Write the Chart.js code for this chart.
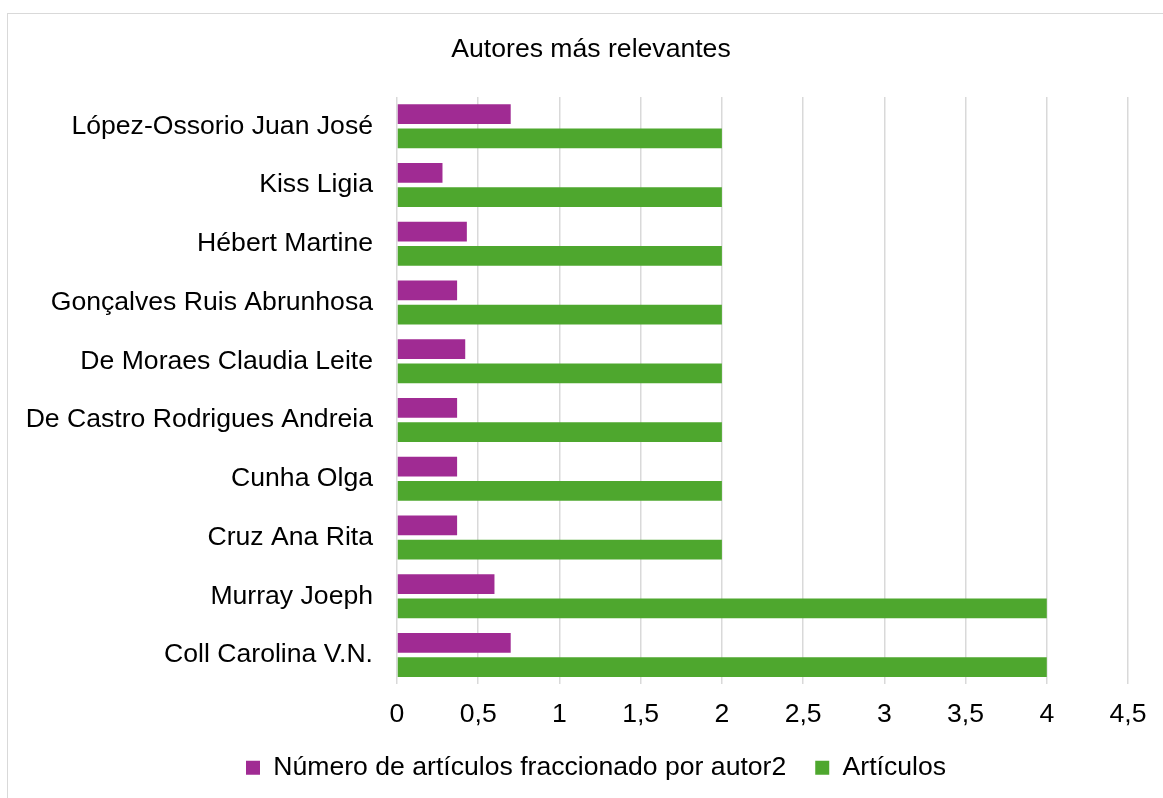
<!DOCTYPE html>
<html>
<head>
<meta charset="utf-8">
<script src="https://cdn.jsdelivr.net/npm/chart.js@4.4.1/dist/chart.umd.min.js"></script>
<style>
  body { margin: 0; background: #fff; overflow: hidden; }
  #frame { position: absolute; left: 7px; top: 13px; width: 1200px; height: 900px; border: 1px solid #d9d9d9; }
  #myChart { position: absolute; left: 0; top: 0; }
</style>
</head>
<body>
<div id="frame"></div>
<canvas id="myChart" width="1163" height="798"></canvas>
<script>
'use strict';
// authors, top to bottom as in the figure
let authors = [
  'López-Ossorio Juan José',
  'Kiss Ligia',
  'Hébert Martine',
  'Gonçalves Ruis Abrunhosa',
  'De Moraes Claudia Leite',
  'De Castro Rodrigues Andreia',
  'Cunha Olga',
  'Cruz Ana Rita',
  'Murray Joeph',
  'Coll Carolina V.N.'
];
let fractionalArticles = [0.7, 0.28, 0.43, 0.37, 0.42, 0.37, 0.37, 0.37, 0.6, 0.7];
let articles = [2, 2, 2, 2, 2, 2, 2, 2, 4, 4];
let xMax = 4.5;
let xStep = 0.5;

let font = { family: '"Liberation Sans", Arial, sans-serif', size: 26.6 };

// the original centres title and legend on its frame, not on the canvas
let shiftBlocks = {
  id: 'shiftBlocks',
  afterLayout(chart) {
    chart.titleBlock.left = 54;
    chart.legend.left = 64;
  }
};

let ctx = document.getElementById('myChart').getContext('2d');
let chart = new Chart(ctx, {
  type: 'bar',
  data: {
    labels: authors,
    datasets: [{
      label: 'Número de artículos fraccionado por autor2',
      backgroundColor: '#a02b93',
      data: fractionalArticles
    }, {
      label: 'Artículos',
      backgroundColor: '#4ea72e',
      data: articles
    }]
  },
  options: {
    indexAxis: 'y',
    responsive: false,
    animation: false,
    categoryPercentage: 0.83,
    barPercentage: 0.81,
    layout: { padding: { top: 0, right: 35, bottom: 7, left: 0 } },
    plugins: {
      title: {
        display: true,
        text: 'Autores más relevantes',
        color: '#000',
        font: { family: font.family, size: 26.6, weight: 'normal' },
        padding: { top: 34, bottom: 31 }
      },
      legend: {
        position: 'bottom',
        labels: {
          color: '#000',
          font: font,
          boxWidth: 14,
          boxHeight: 14,
          padding: 29
        }
      },
      tooltip: { enabled: false }
    },
    scales: {
      x: {
        min: 0,
        max: xMax,
        afterFit: function (scale) { scale.height = 41; },
        ticks: {
          stepSize: xStep,
          color: '#000',
          font: font,
          padding: 14,
          callback: v => String(v).replace('.', ',')
        },
        grid: { color: '#d9d9d9', lineWidth: 1.5, drawTicks: false },
        border: { display: false }
      },
      y: {
        afterFit: function (scale) { scale.width = 397; },
        ticks: { color: '#000', font: font, padding: 24 },
        grid: { display: false, drawTicks: false },
        border: { display: false }
      }
    }
  },
  plugins: [shiftBlocks]
});
</script>
</body>
</html>
